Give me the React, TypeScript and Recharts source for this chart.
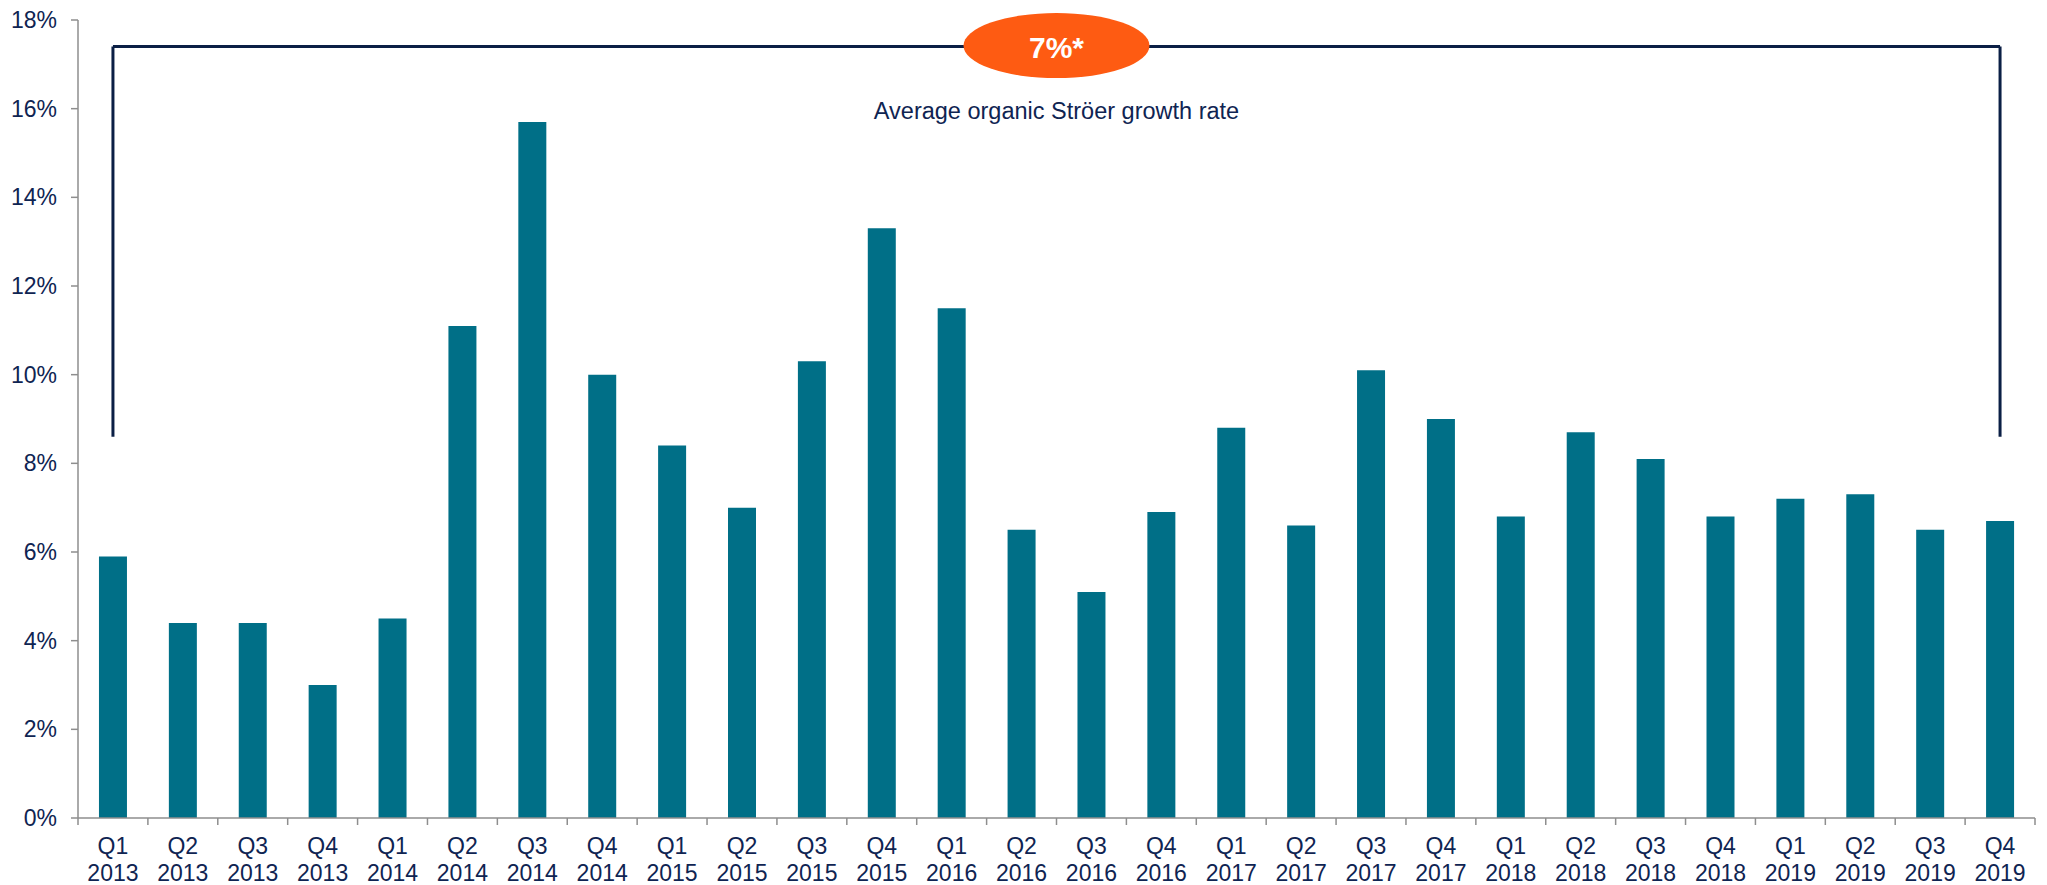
import { Bar, BarChart, ReferenceLine, XAxis, YAxis } from 'recharts';

const categories = [
  'Q1 2013', 'Q2 2013', 'Q3 2013', 'Q4 2013',
  'Q1 2014', 'Q2 2014', 'Q3 2014', 'Q4 2014',
  'Q1 2015', 'Q2 2015', 'Q3 2015', 'Q4 2015',
  'Q1 2016', 'Q2 2016', 'Q3 2016', 'Q4 2016',
  'Q1 2017', 'Q2 2017', 'Q3 2017', 'Q4 2017',
  'Q1 2018', 'Q2 2018', 'Q3 2018', 'Q4 2018',
  'Q1 2019', 'Q2 2019', 'Q3 2019', 'Q4 2019',
];

// organic growth per quarter, in %
const growth = [
  5.9, 4.4, 4.4, 3.0,
  4.5, 11.1, 15.7, 10.0,
  8.4, 7.0, 10.3, 13.3,
  11.5, 6.5, 5.1, 6.9,
  8.8, 6.6, 10.1, 9.0,
  6.8, 8.7, 8.1, 6.8,
  7.2, 7.3, 6.5, 6.7,
];

const yTicks = [0, 2, 4, 6, 8, 10, 12, 14, 16, 18];

const bracketTop = 17.4;
const bracketBottom = 8.6;
const averageLabel = '7%*';
const averageCaption = 'Average organic Ströer growth rate';

const W = 2047;
const H = 885;
const AXIS_W = 78;
const RIGHT = 12;
const BAND = (W - AXIS_W - RIGHT) / categories.length;

const NAVY = '#0f2452';
const TEAL = '#006f87';
const AXIS = '#8e8e8e';
const FONT = '"Liberation Sans", Arial, sans-serif';

const rows = categories.map((name, i) => ({ name, value: growth[i] }));

function QuarterTick({ x, y, payload, index }: any) {
  const [q, yr] = String(payload.value).split(' ');
  const half = BAND / 2;
  return (
    <g>
      <line x1={x - half} x2={x - half} y1={y} y2={y + 7} stroke={AXIS} strokeWidth={1.5} />
      {index === categories.length - 1 && (
        <line x1={x + half} x2={x + half} y1={y} y2={y + 7} stroke={AXIS} strokeWidth={1.5} />
      )}
      <text x={x} y={y + 36} textAnchor="middle" fill={NAVY} fontSize={23} fontFamily={FONT}>
        <tspan x={x}>{q}</tspan>
        <tspan x={x} dy={27}>{yr}</tspan>
      </text>
    </g>
  );
}

function AverageBadge({ viewBox }: any) {
  if (!viewBox) return null;
  const cx = viewBox.x + viewBox.width / 2;
  const cy = viewBox.y;
  return (
    <g>
      <ellipse cx={cx} cy={cy - 1} rx={93} ry={32.5} fill="#fe5b12" />
      <text x={cx} y={cy + 11} textAnchor="middle" fill="#fff" fontSize={30} fontWeight="bold" fontFamily={FONT}>
        {averageLabel}
      </text>
      <text x={cx} y={cy + 72} textAnchor="middle" fill={NAVY} fontSize={23.5} fontFamily={FONT}>
        {averageCaption}
      </text>
    </g>
  );
}

export default function App() {
  const first = categories[0];
  const last = categories[categories.length - 1];
  return (
    <div style={{ position: 'absolute', left: 0, top: 0, background: '#fff' }}>
      <BarChart
        width={W}
        height={H}
        data={rows}
        margin={{ top: 20, right: RIGHT, left: 0, bottom: 0 }}
        barCategoryGap="30%"
      >
        <XAxis
          dataKey="name"
          interval={0}
          height={67}
          tickLine={false}
          tickSize={0}
          tickMargin={0}
          axisLine={{ stroke: AXIS, strokeWidth: 1.5 }}
          tick={<QuarterTick />}
        />
        <YAxis
          width={AXIS_W}
          domain={[0, 18]}
          ticks={yTicks}
          interval={0}
          tickFormatter={(v: number) => `${v}%`}
          tickSize={7}
          tickMargin={14}
          tickLine={{ stroke: AXIS, strokeWidth: 1.5 }}
          axisLine={{ stroke: AXIS, strokeWidth: 1.5 }}
          tick={{ fill: NAVY, fontSize: 23, fontFamily: FONT }}
        />
        <Bar dataKey="value" fill={TEAL} isAnimationActive={false} />
        <ReferenceLine
          segment={[{ x: first, y: bracketBottom }, { x: first, y: bracketTop }]}
          stroke="#0b1f45"
          strokeWidth={3}
          ifOverflow="visible"
        />
        <ReferenceLine
          segment={[{ x: last, y: bracketBottom }, { x: last, y: bracketTop }]}
          stroke="#0b1f45"
          strokeWidth={3}
          ifOverflow="visible"
        />
        <ReferenceLine
          segment={[{ x: first, y: bracketTop }, { x: last, y: bracketTop }]}
          stroke="#0b1f45"
          strokeWidth={3}
          ifOverflow="visible"
          label={<AverageBadge />}
        />
      </BarChart>
    </div>
  );
}
